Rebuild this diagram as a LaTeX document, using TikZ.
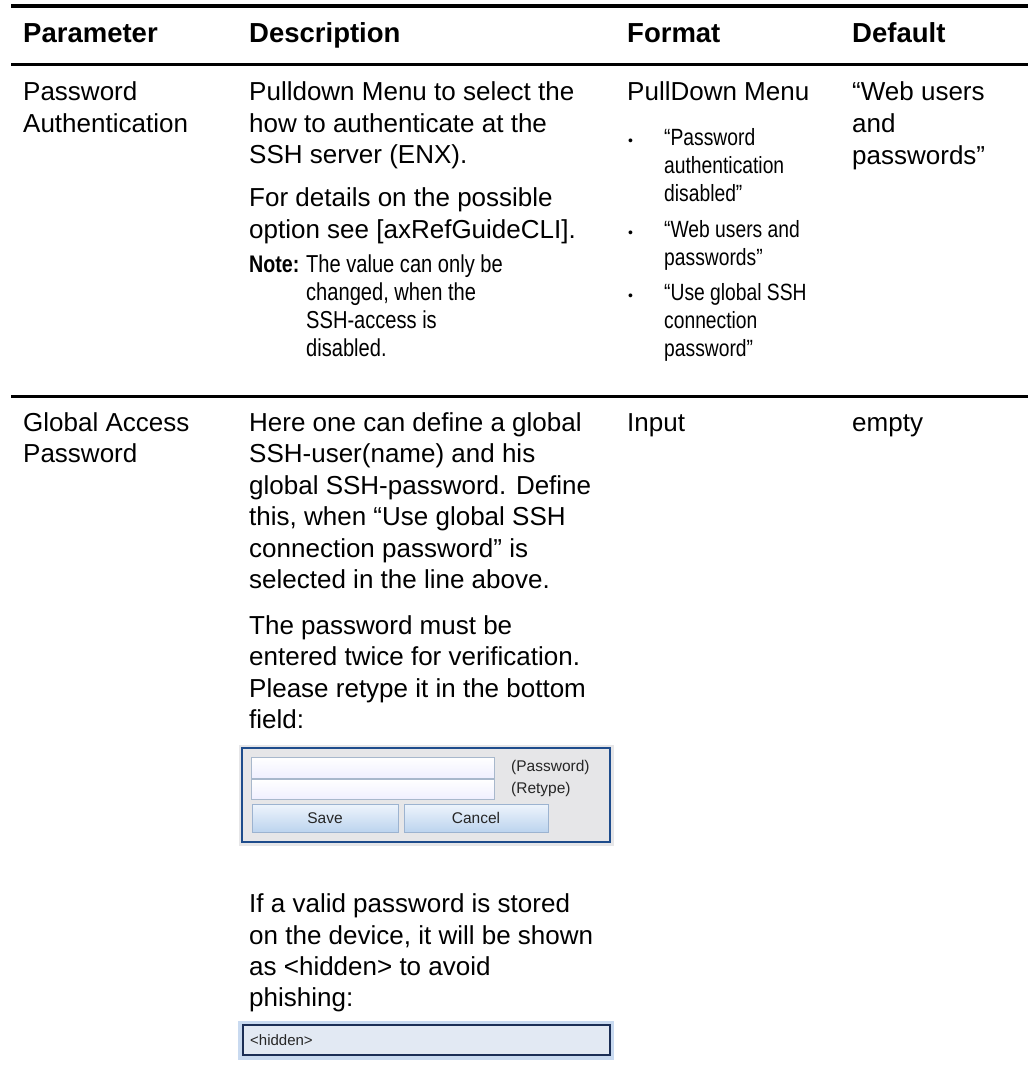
\documentclass[tikz,border=0pt]{standalone}
\usepackage{fontspec}
\setmainfont{Liberation Sans}
\newfontfamily\narrowfont[FakeStretch=0.82]{Liberation Sans}
\definecolor{navy}{HTML}{1E4C8C}
\definecolor{panelgray}{HTML}{E6E6E8}
\definecolor{fieldborder}{HTML}{A8B8CC}
\definecolor{btnborder}{HTML}{9CB3D0}
\definecolor{btntop}{HTML}{EEF4FC}
\definecolor{btnbot}{HTML}{BCD4EE}
\definecolor{hidfill}{HTML}{E2E9F3}
\definecolor{hidglow}{HTML}{C9DAF0}
\definecolor{hidborder}{HTML}{1B2E55}
\begin{document}
\begin{tikzpicture}[x=1pt,y=-1pt,
  body/.style={anchor=base west,inner sep=0pt,font=\fontsize{26}{31}\selectfont},
  head/.style={anchor=base west,inner sep=0pt,font=\fontsize{27.5}{31}\selectfont\bfseries},
  narrow/.style={anchor=base west,inner sep=0pt,font=\narrowfont\fontsize{23.5}{28}\selectfont},
  notetext/.style={anchor=base west,inner sep=0pt,font=\narrowfont\fontsize{24.5}{28}\selectfont},
  notebold/.style={anchor=base west,inner sep=0pt,font=\narrowfont\bfseries\fontsize{24}{28}\selectfont},
  bul/.style={anchor=base west,inner sep=0pt,font=\fontsize{14}{16}\selectfont},
  small/.style={inner sep=0pt,font=\fontsize{15.5}{18}\selectfont,text=black!85},
  rule/.style={line width=#1,black}]
\useasboundingbox (0,0) rectangle (1028,1073);
\fill[white] (0,0) rectangle (1028,1073);
% rules
\coordinate (r0a) at (11,6); \coordinate (r0b) at (1028,6);
\coordinate (r1a) at (11,64.5); \coordinate (r1b) at (1028,64.5);
\coordinate (r2a) at (11,396); \coordinate (r2b) at (1028,396);
\draw[rule=4.5pt] (r0a) -- (r0b);
\draw[rule=3pt] (r1a) -- (r1b);
\draw[rule=3pt] (r2a) -- (r2b);
% header
\node[head] (h1) at (23,43) {Parameter};
\node[head] (h2) at (249,43) {Description};
\node[head] (h3) at (627,43) {Format};
\node[head] (h4) at (852,43) {Default};
% row 1
\node[body] (p1a) at (23,100) {Password};
\node[body] (p1b) at (23,132) {Authentication};
\node[body] (d1a) at (249,100) {Pulldown Menu to select the};
\node[body] (d1b) at (249,132) {how to authenticate at the};
\node[body] (d1c) at (249,163) {SSH server (ENX).};
\node[body] (d1d) at (249,206) {For details on the possible};
\node[body] (d1e) at (249,238) {option see [axRefGuideCLI].};
\node[notebold] (n0) at (249,272) {Note:};
\node[notetext] (n1) at (306,272) {The value can only be};
\node[notetext] (n2) at (306,300) {changed, when the};
\node[notetext] (n3) at (306,328) {SSH-access is};
\node[notetext] (n4) at (306,356) {disabled.};
\node[body] (f1) at (627,100) {PullDown Menu};
\node[bul] (b1) at (628,145) {•};
\node[narrow] (f1a) at (664,145) {“Password};
\node[narrow] (f1b) at (664,173) {authentication};
\node[narrow] (f1c) at (664,201) {disabled”};
\node[bul] (b2) at (628,237) {•};
\node[narrow] (f2a) at (664,237) {“Web users and};
\node[narrow] (f2b) at (664,265) {passwords”};
\node[bul] (b3) at (628,300) {•};
\node[narrow] (f3a) at (664,300) {“Use global SSH};
\node[narrow] (f3b) at (664,328) {connection};
\node[narrow] (f3c) at (664,356) {password”};
\node[body] (g1a) at (852,100) {“Web users};
\node[body] (g1b) at (852,132) {and};
\node[body] (g1c) at (852,164) {passwords”};
% row 2
\node[body] (p2a) at (23,431) {Global Access};
\node[body] (p2b) at (23,462) {Password};
\node[body] (e1) at (249,431) {Here one can define a global};
\node[body] (e2) at (249,462) {SSH-user(name) and his};
\node[body] (e3) at (249,494) {global SSH-password. Define};
\node[body] (e4) at (249,525) {this, when “Use global SSH};
\node[body] (e5) at (249,557) {connection password” is};
\node[body] (e6) at (249,588) {selected in the line above.};
\node[body] (e7) at (249,634) {The password must be};
\node[body] (e8) at (249,665) {entered twice for verification.};
\node[body] (e9) at (249,697) {Please retype it in the bottom};
\node[body] (e10) at (249,728) {field:};
\node[body] (f4) at (627,431) {Input};
\node[body] (g4) at (852,431) {empty};
% password widget
\fill[panelgray] (239,745) rectangle (614,846);
\draw[navy,line width=2.5pt,fill=panelgray] (242,748) rectangle (610,842);
\draw[fieldborder,line width=1pt,top color=white,bottom color=white!94!blue] (251,757) rectangle (494,778);
\draw[fieldborder,line width=1pt,top color=white,bottom color=white!94!blue] (251,779.5) rectangle (494,799);
\node[small,anchor=west] (lp) at (511,767) {(Password)};
\node[small,anchor=west] (lr) at (511,789) {(Retype)};
\draw[btnborder,line width=1pt,top color=btntop,bottom color=btnbot] (252,804) rectangle (398,832);
\draw[btnborder,line width=1pt,top color=btntop,bottom color=btnbot] (404,804) rectangle (548,832);
\node[small] (sv) at (325,818) {Save};
\node[small] (cn) at (476,818) {Cancel};
% continue text
\node[body] (e11) at (249,912) {If a valid password is stored};
\node[body] (e12) at (249,944) {on the device, it will be shown};
\node[body] (e13) at (249,975) {as <hidden> to avoid};
\node[body] (e14) at (249,1006) {phishing:};
% hidden field
\fill[hidglow] (238,1021) rectangle (614,1060);
\draw[hidborder,line width=2pt,fill=hidfill] (243,1025) rectangle (610,1055);
\node[small,anchor=west,font=\fontsize{15}{17}\selectfont] (hid) at (250,1040) {<hidden>};
\end{tikzpicture}
\end{document}
